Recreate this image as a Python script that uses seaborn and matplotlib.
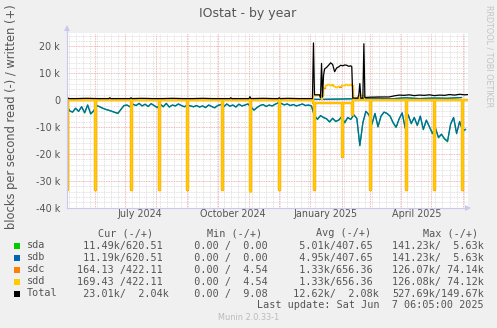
import numpy as np
import pandas as pd
import matplotlib
matplotlib.use("Agg")
import matplotlib.pyplot as plt
import matplotlib.dates as mdates
from matplotlib.patches import Rectangle
from matplotlib.ticker import MultipleLocator, FuncFormatter
import seaborn as sns

W, H = 497, 328

# ---------------- data (thousands of blocks per second; reads negative) ----------------
DAY0 = pd.Timestamp("2024-05-04")

# sda / sdb reads, one value every 3 days
sda_read = [-1.5, -4.0, -4.5, -3.0, -4.2, -2.5, -4.8, -1.8, -5.2, -4.0,
            -2.0, -2.5, -3.0, -3.5, -3.8, -4.2, -4.6, -5.0, -3.5, -2.0,
            -1.8, -2.5, -1.5, -2.0, -1.2, -2.2, -1.5, -2.4, -1.3, -2.0,
            -2.8, -1.5, -2.5, -1.2, -2.6, -1.8, -2.2, -1.4, -2.0, -2.5,
            -1.8, -2.2, -2.5, -2.0, -2.6, -2.2, -2.8, -1.8, -2.4, -2.9,
            -2.0, -1.6, -2.5, -1.4, -2.3, -1.8, -2.6, -1.5, -2.2, -1.8,
            -1.4, -2.6, -3.8, -2.8, -2.0, -1.6, -2.4, -1.8, -2.2, -1.5,
            -1.0, -1.2, -1.8, -1.4, -2.0, -1.6, -2.2, -1.8, -1.4, -2.0,
            -1.8, -2.2, -6.0, -7.2, -5.8, -6.5, -7.0, -8.2, -6.8, -8.0,
            -7.5, -6.2, -8.5, -6.5, -7.2, -5.5, -6.8, -17.0, -8.5, -4.2,
            -5.5, -9.0, -5.0, -10.0, -6.0, -4.5, -5.0, -6.0, -8.5, -10.2,
            -7.0, -4.8, -10.5, -5.5, -8.8, -6.5, -9.5, -6.0, -11.0, -7.5,
            -10.0, -12.5, -10.5, -14.0, -12.8, -14.5, -15.5, -9.0, -6.5, -12.5,
            -8.0, -11.5, -11.0]
sdb_read = [-1.4, -3.9, -4.4, -3.0, -4.1, -2.4, -4.6, -1.8, -5.0, -3.9,
            -2.0, -2.4, -3.0, -3.4, -3.7, -4.1, -4.5, -4.8, -3.4, -2.0,
            -1.8, -2.4, -1.5, -2.0, -1.2, -2.1, -1.5, -2.3, -1.3, -2.0,
            -2.7, -1.5, -2.4, -1.2, -2.5, -1.8, -2.1, -1.4, -2.0, -2.4,
            -1.8, -2.1, -2.4, -2.0, -2.5, -2.1, -2.7, -1.8, -2.3, -2.8,
            -2.0, -1.6, -2.4, -1.4, -2.2, -1.8, -2.5, -1.5, -2.1, -1.8,
            -1.4, -2.5, -3.6, -2.7, -2.0, -1.6, -2.3, -1.8, -2.1, -1.5,
            -1.0, -1.2, -1.7, -1.4, -2.0, -1.6, -2.1, -1.8, -1.4, -2.0,
            -1.8, -2.1, -5.8, -7.0, -5.7, -6.4, -6.9, -8.0, -6.7, -7.8,
            -7.4, -6.1, -8.3, -6.4, -7.1, -5.4, -6.7, -16.8, -8.3, -4.1,
            -5.4, -8.8, -4.9, -9.8, -5.9, -4.4, -4.9, -5.9, -8.3, -10.0,
            -6.9, -4.7, -10.3, -5.4, -8.6, -6.4, -9.3, -5.9, -10.8, -7.4,
            -9.8, -12.3, -10.3, -13.8, -12.6, -14.3, -15.2, -8.9, -6.4, -12.3,
            -7.9, -11.3, -10.8]

# sda / sdb writes, one value every 14 days
sda_write = [0.35, 0.30, 0.35, 0.30, 0.30, 0.35, 0.30, 0.30, 0.35, 0.30,
             0.30, 0.30, 0.35, 0.30, 0.30, 0.30, 0.30, 0.35, 0.30, 0.40,
             0.50, 0.60, 0.70, 0.50, 0.90, 0.60, 0.80, 0.70, 1.00]
sdb_write = [0.34, 0.30, 0.34, 0.30, 0.30, 0.34, 0.30, 0.30, 0.34, 0.30,
             0.30, 0.30, 0.34, 0.30, 0.30, 0.30, 0.30, 0.34, 0.30, 0.40,
             0.50, 0.60, 0.70, 0.50, 0.90, 0.60, 0.80, 0.70, 1.00]

# sdc / sdd reads: monthly array-check bursts plus a quiet baseline
check_dates = ["2024-05-05", "2024-06-02", "2024-07-07", "2024-08-04",
               "2024-09-01", "2024-10-06", "2024-11-03", "2024-12-01",
               "2025-01-05", "2025-02-02", "2025-03-02", "2025-04-06",
               "2025-05-04", "2025-06-01"]
sdc_check = [-33.4, -33.4, -33.4, -33.4, -33.4, -33.4, -33.8, -33.4,
             -33.4, -21.0, -33.4, -33.4, -33.4, -33.4]
sdd_check = [-33.5, -33.5, -33.5, -33.5, -33.5, -33.5, -34.0, -33.5,
             -33.5, -21.0, -33.5, -33.5, -33.5, -33.5]
read_base_start = ["2024-05-04", "2025-01-04", "2025-02-12", "2025-02-13"]
read_base_end = ["2025-01-03", "2025-02-11", "2025-02-12", "2025-06-06"]
sdc_read_base = [-0.1, -1.0, -5.4, -0.1]
sdd_read_base = [-0.1, -1.0, -5.6, -0.1]

# sdc / sdd writes (breakpoints, day offsets)
sdd_write_day = [0, 244, 245, 251, 252, 253, 254, 256, 258, 260, 262, 264, 266,
                 268, 270, 272, 274, 276, 278, 280, 282, 283, 284, 289, 290,
                 294, 295, 398]
sdd_write = [0.15, 0.15, 2.0, 2.0, 0.3, 2.0, 4.8, 5.8, 6.2, 5.6, 5.9, 5.3, 5.0,
             5.4, 5.1, 5.6, 5.8, 6.0, 5.7, 6.1, 5.9, 5.8, 0.2, 0.2, 2.0,
             2.0, 0.2, 0.2]
sdc_write = [0.15, 0.15, 2.0, 2.0, 0.3, 2.0, 4.7, 5.7, 6.1, 5.5, 5.8, 5.2, 4.9,
             5.3, 5.0, 5.5, 5.7, 5.9, 5.6, 6.0, 5.8, 5.7, 0.2, 0.2, 2.0,
             2.0, 0.2, 0.2]

# total writes (breakpoints, day offsets)
total_write_day = [0, 1, 2, 10, 20, 30, 42, 43, 44, 55, 63, 64, 65, 75, 85, 95,
                   105, 115, 125, 135, 145, 155, 162, 163, 164, 172, 181, 182,
                   183, 195, 205, 210, 211, 212, 220, 230, 240, 244, 245, 246,
                   251, 252, 253, 254, 255, 256, 258, 260, 262, 264, 266, 268,
                   270, 272, 274, 276, 278, 280, 282, 283, 284, 289, 290, 291,
                   292, 294, 295, 296, 300, 310, 320, 325, 330, 335, 340, 345,
                   350, 355, 360, 365, 370, 375, 380, 385, 390, 395, 398]
total_write = [0.6, 1.0, 0.6, 0.6, 0.7, 0.6, 0.6, 0.9, 0.6, 0.6, 0.6, 0.9, 0.6,
               0.7, 0.6, 0.6, 0.7, 0.6, 0.6, 0.7, 0.6, 0.6, 0.6, 0.9, 0.6, 0.6,
               0.6, 1.3, 0.6, 0.7, 0.6, 0.6, 0.9, 0.6, 0.7, 0.6, 0.6, 0.6, 21.3,
               2.0, 2.0, 0.9, 13.7, 1.2, 9.3, 11.6, 12.2, 13.0, 13.9, 13.3, 10.6,
               12.0, 12.4, 13.0, 12.8, 13.1, 13.0, 12.6, 12.8, 12.5, 0.8, 0.8,
               2.0, 6.2, 0.8, 0.8, 21.0, 1.0, 1.1, 1.2, 1.2, 1.6, 1.9, 1.8, 2.0,
               1.7, 1.9, 1.8, 2.0, 1.7, 1.9, 1.8, 2.1, 1.9, 2.2, 2.0, 2.1]

Y_TICKS = [-40, -30, -20, -10, 0, 10, 20]
QUARTER_LABELS = ["2024-07-16", "2024-10-16", "2025-01-16", "2025-04-16"]

legend_rows = [
    ("sda", "#00CC00", " 11.49k/620.51 ", "  0.00 /  0.00 ", "  5.01k/407.65 ", "141.23k/  5.63k"),
    ("sdb", "#0066B3", " 11.19k/620.51 ", "  0.00 /  0.00 ", "  4.95k/407.65 ", "141.23k/  5.63k"),
    ("sdc", "#FF8000", "164.13 /422.11 ", "  0.00 /  4.54 ", "  1.33k/656.36 ", "126.07k/ 74.14k"),
    ("sdd", "#FFCC00", "169.43 /422.11 ", "  0.00 /  4.54 ", "  1.33k/656.36 ", "126.08k/ 74.12k"),
    ("Total", "#000000", " 23.01k/  2.04k", "  0.00 /  9.08 ", " 12.62k/  2.08k", "527.69k/149.67k"),
]
headers = ["Cur (-/+)", "Min (-/+)", "Avg (-/+)", "Max (-/+)"]

# ---------------- helpers ----------------
def offsets_to_dates(offsets):
    return DAY0 + pd.to_timedelta(offsets, unit="D")

def daily_series(starts, ends, values, event_dates, event_values):
    s = pd.Series(np.nan, index=pd.date_range(DAY0, "2025-06-06", freq="D"))
    for a, b, v in zip(starts, ends, values):
        s.loc[a:b] = v
    for d, v in zip(event_dates, event_values):
        s.loc[pd.Timestamp(d)] = v
    return s

# ---------------- figure ----------------
sns.set_theme(style="white")
plt.rcParams["font.family"] = ["DejaVu Sans"]

BG = "#F0F0F0"
AXC = "#C8C8F0"
TXT = "#555555"

fig = plt.figure(figsize=(W / 100, H / 100), dpi=100, facecolor=BG)
ax = fig.add_axes([67 / W, 1 - 207.7 / H, 400.7 / W, 174.7 / H])
ax.set_facecolor("white")

d3 = DAY0 + pd.to_timedelta(np.arange(len(sda_read)) * 3, unit="D")
d14 = DAY0 + pd.to_timedelta(np.arange(len(sda_write)) * 14, unit="D")

sdc_read = daily_series(read_base_start, read_base_end, sdc_read_base, check_dates, sdc_check)
sdd_read = daily_series(read_base_start, read_base_end, sdd_read_base, check_dates, sdd_check)
write_dates = offsets_to_dates(sdd_write_day)

lw = 0.9
sns.lineplot(x=d3, y=sda_read, ax=ax, color="#00CC00", lw=lw)
sns.lineplot(x=d14, y=sda_write, ax=ax, color="#00CC00", lw=lw)
sns.lineplot(x=d3, y=sdb_read, ax=ax, color="#0066B3", lw=lw)
sns.lineplot(x=d14, y=sdb_write, ax=ax, color="#0066B3", lw=lw)
sns.lineplot(x=sdc_read.index, y=sdc_read.values, ax=ax, color="#FF8000", lw=1.7,
             drawstyle="steps-mid")
sns.lineplot(x=write_dates, y=sdc_write, ax=ax, color="#FF8000",
             lw=lw, drawstyle="steps-post")
sns.lineplot(x=sdd_read.index, y=sdd_read.values, ax=ax, color="#FFCC00", lw=1.2,
             drawstyle="steps-mid")
sns.lineplot(x=write_dates, y=sdd_write, ax=ax, color="#FFCC00",
             lw=lw, drawstyle="steps-post")
sns.lineplot(x=offsets_to_dates(total_write_day), y=total_write, ax=ax, color="#000000",
             lw=lw)

# axes ranges
ax.set_xlim(pd.Timestamp("2024-05-04 12:00"), pd.Timestamp("2025-06-06 00:00"))
ax.set_ylim(-40, 25)

# grid: weekly / 2k minor, monthly / 10k major
ax.xaxis.set_major_locator(mdates.MonthLocator())
ax.xaxis.set_minor_locator(mdates.WeekdayLocator(byweekday=mdates.MO))
ax.yaxis.set_major_locator(MultipleLocator(10))
ax.yaxis.set_minor_locator(MultipleLocator(2))
ax.grid(which="minor", color="#D8D8D8", lw=0.6, linestyle=(0, (1, 1)))
ax.grid(which="major", color="#F2A0A0", lw=0.6, linestyle=(0, (1, 1)))
ax.set_axisbelow(True)
ax.xaxis.set_major_formatter(FuncFormatter(lambda v, p: ""))
ax.set_yticks(Y_TICKS)
ax.yaxis.set_major_formatter(FuncFormatter(lambda v, p: "0" if v == 0 else f"{v:g} k"))
ax.tick_params(axis="y", which="major", length=2, width=0.6, color="#BBBBBB",
               labelsize=6.9, labelcolor=TXT, pad=3)
ax.tick_params(axis="y", which="minor", length=1.5, width=0.5, color="#CCCCCC")
ax.tick_params(axis="x", which="both", length=0, labelsize=6.9, labelcolor=TXT)

for side in ("top", "right"):
    ax.spines[side].set_visible(False)
for side in ("left", "bottom"):
    ax.spines[side].set_color(AXC)
    ax.spines[side].set_linewidth(0.8)

# quarter labels under the axis, centred in the month
sec = ax.secondary_xaxis("bottom")
sec.set_xticks([pd.Timestamp(d) for d in QUARTER_LABELS])
sec.xaxis.set_major_formatter(mdates.DateFormatter("%B %Y"))
sec.tick_params(length=0, labelsize=6.9, labelcolor=TXT, pad=1)
sec.spines["bottom"].set_visible(False)

# axis arrows
ax.plot([1.0], [0], transform=ax.transAxes, marker=">", ms=4, color=AXC, clip_on=False,
        zorder=5, markeredgewidth=0)
ax.plot([0], [1.03], transform=ax.transAxes, marker="^", ms=4, color=AXC, clip_on=False,
        zorder=5, markeredgewidth=0)
ax.plot([0, 0], [1.0, 1.03], transform=ax.transAxes, color=AXC, lw=0.8, clip_on=False)

ax.set_xlabel("")
ax.set_ylabel("")

# title, axis label and side credit
fig.text(247.5 / W, 1 - 13 / H, "IOstat - by year", ha="center", va="center",
         fontsize=9, color=TXT)
fig.text(12 / W, 1 - 117 / H, "blocks per second read (-) / written (+)", rotation=90,
         ha="center", va="center", fontsize=8.3, color=TXT)
fig.text(489 / W, 1 - 56 / H, "RRDTOOL / TOBI OETIKER", rotation=270,
         ha="center", va="center", fontsize=5.8, color="#C4C4C4")

# legend table
MONO = "DejaVu Sans Mono"
fs = 7.3
col_x = [77, 182.2, 286.9, 392.3]
head_x = [98.3, 207.3, 315.7, 423.3]
for hx, h in zip(head_x, headers):
    fig.text(hx / W, 1 - 233.3 / H, h, family=MONO, fontsize=fs, color=TXT,
             ha="left", va="center")
for i, (name, col, cur, mn, avg, mx) in enumerate(legend_rows):
    y = 245.5 + 12 * i
    fig.patches.append(Rectangle((14 / W, 1 - (y + 3) / H), 6 / W, 6 / H,
                                 transform=fig.transFigure, facecolor=col,
                                 edgecolor="none"))
    fig.text(26.7 / W, 1 - y / H, name, family=MONO, fontsize=fs, color=TXT,
             ha="left", va="center")
    for cx, s in zip(col_x, (cur, mn, avg, mx)):
        fig.text(cx / W, 1 - y / H, s, family=MONO, fontsize=fs, color=TXT,
                 ha="left", va="center")
fig.text(483.3 / W, 1 - 305.5 / H, "Last update: Sat Jun  7 06:05:00 2025",
         family=MONO, fontsize=fs, color=TXT, ha="right", va="center")
fig.text(248.5 / W, 1 - 317.7 / H, "Munin 2.0.33-1", fontsize=5.9, color="#BBBBBB",
         ha="center", va="center")

fig.savefig("out.png", dpi=100, facecolor=BG)
